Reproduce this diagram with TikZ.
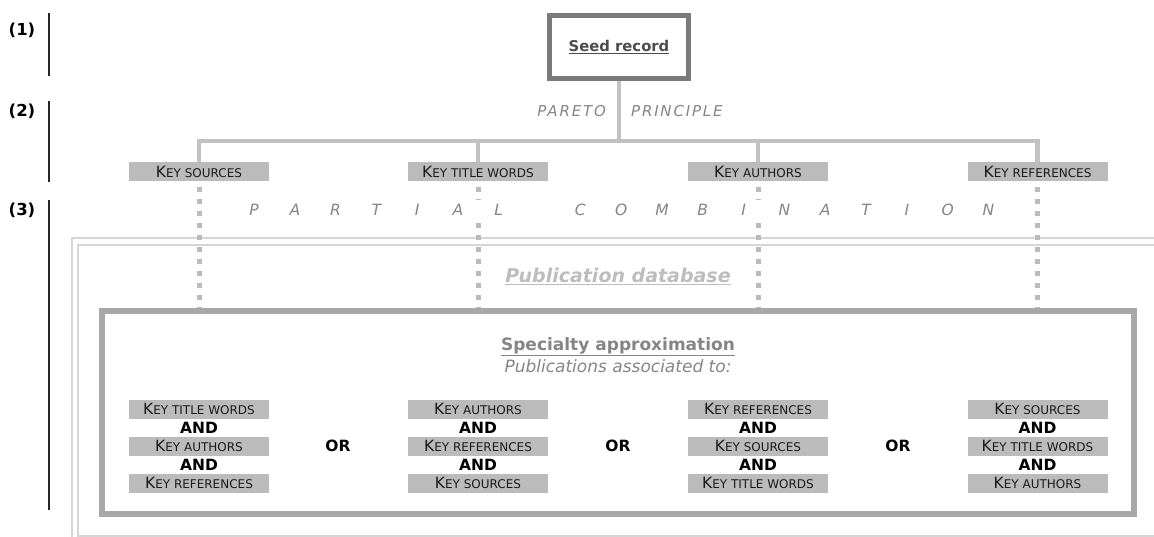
\documentclass[tikz,border=0pt]{standalone}
\usepackage{fontspec}
\setmainfont{DejaVu Sans}
\definecolor{boxgray}{HTML}{BBBBBB}
\definecolor{treegray}{HTML}{C2C2C2}
\definecolor{seedgray}{HTML}{7A7A7A}
\definecolor{specgray}{HTML}{A8A8A8}
\definecolor{pubgray}{HTML}{D6D6D6}
\definecolor{pubtext}{HTML}{BDBDBD}
\definecolor{midgray}{HTML}{858585}
\definecolor{darktext}{HTML}{1A1A1A}
\newcommand{\kw}[2]{{\fontsize{15.5}{15.5}\selectfont #1}{\fontsize{12}{12}\selectfont #2}}
\newcommand{\bigf}[1]{\fontsize{#1}{#1}\selectfont}
\begin{document}
\begin{tikzpicture}[x=1pt,y=-1pt,
  lab/.style={font=\bfseries\bigf{16.5}, text=black, inner sep=0},
  bar/.style={line width=1.6pt, draw=black!85},
  seedbox/.style={draw=seedgray, line width=5pt, minimum width=139pt, minimum height=63pt, fill=white, font=\bfseries\bigf{14.8}, text=black!70},
  keybox/.style={fill=boxgray, minimum width=140pt, minimum height=19pt, inner sep=0, text=darktext},
  tree/.style={draw=treegray, line width=4.5pt},
  dots/.style={draw=boxgray, line width=5pt, dash pattern=on 5pt off 7pt},
  pub/.style={draw=pubgray, line width=2pt},
  spaced/.style={font=\itshape\bigf{15}\addfontfeature{LetterSpace=12}, text=midgray, inner sep=0},
  letter/.style={font=\itshape\bigf{15.5}, text=midgray, inner sep=0},
  specbox/.style={draw=specgray, line width=6pt, minimum width=1032pt, minimum height=203pt},
  opw/.style={font=\bfseries\bigf{15.5}, text=black, inner sep=0}
]
\useasboundingbox (0,0) rectangle (1154,537);

% level labels
\node[lab] (l1) at (22,30) {(1)};
\node[lab] (l2) at (22,111) {(2)};
\node[lab] (l3) at (22,210.5) {(3)};
\draw[bar] (49,13) -- (49,76);
\draw[bar] (49,101) -- (49,182);
\draw[bar] (49,200) -- (49,510);

% publication database frame
\draw[pub] (72,238) rectangle (1170,560);
\draw[pub] (78,245) rectangle (1170,536);

% seed
\node[seedbox] (seed) at (619,47) {\underline{Seed record}};
\coordinate (hub) at (619,141);
\node[spaced, anchor=east] (par1) at (606,111) {PARETO};
\node[spaced, anchor=west] (par2) at (631,111) {PRINCIPLE};

% key nodes
\node[keybox] (k1) at (199,172) {\kw{K}{EY SOURCES}};
\node[keybox] (k2) at (478,172) {\kw{K}{EY TITLE WORDS}};
\node[keybox] (k3) at (758,172) {\kw{K}{EY AUTHORS}};
\node[keybox] (k4) at (1037.5,172) {\kw{K}{EY REFERENCES}};

% specialty box
\node[specbox] (spec) at (618,412.5) {};

% tree
\draw[tree] (seed.south) -- (hub);
\draw[tree] (k1.north) -- (k1.north |- hub) -- (k4.north |- hub) -- (k4.north);
\draw[tree] (k2.north) -- (k2.north |- hub);
\draw[tree] (k3.north) -- (k3.north |- hub);

% dotted
\foreach \k in {k1,k2,k3,k4}
  \draw[dots] ([yshift=-5pt]\k.south) -- (\k.south |- spec.north);

% partial combination (white band behind the letters)
\node[fill=white, minimum width=765pt, minimum height=22pt, inner sep=0] (pcbg) at (621,211) {};
\foreach \l [count=\i from 0] in {P,A,R,T,I,A,L}
  \node[letter] (pa\i) at (254+40.8*\i,210) {\l};
\foreach \l [count=\i from 8] in {C,O,M,B,I,N,A,T,I,O,N}
  \node[letter] (co\i) at (254+40.8*\i,210) {\l};

% publication database title
\node[font=\bfseries\itshape\bigf{19}, text=pubtext, inner sep=0] (pubdb) at (618,276) {\underline{Publication database}};

% specialty titles
\node[font=\bfseries\bigf{17}, text=midgray, inner sep=0] (st) at (618,347) {\underline{Specialty approximation}};
\node[font=\itshape\bigf{17}, text=midgray, inner sep=0] (ss) at (618,366) {Publications associated to:};

% combinations
\foreach \x/\a/\b/\c/\n in {
  199/{EY TITLE WORDS}/{EY AUTHORS}/{EY REFERENCES}/a,
  478/{EY AUTHORS}/{EY REFERENCES}/{EY SOURCES}/b,
  758/{EY REFERENCES}/{EY SOURCES}/{EY TITLE WORDS}/c,
  1037.5/{EY SOURCES}/{EY TITLE WORDS}/{EY AUTHORS}/d}{
  \node[keybox] (\n1) at (\x,409) {\kw{K}{\a}};
  \node[opw] (\n and1) at (\x,428) {AND};
  \node[keybox] (\n2) at (\x,446) {\kw{K}{\b}};
  \node[opw] (\n and2) at (\x,465) {AND};
  \node[keybox] (\n3) at (\x,483) {\kw{K}{\c}};
}
\node[opw] (or1) at (338,446) {OR};
\node[opw] (or2) at (618,446) {OR};
\node[opw] (or3) at (898,446) {OR};
\end{tikzpicture}
\end{document}
